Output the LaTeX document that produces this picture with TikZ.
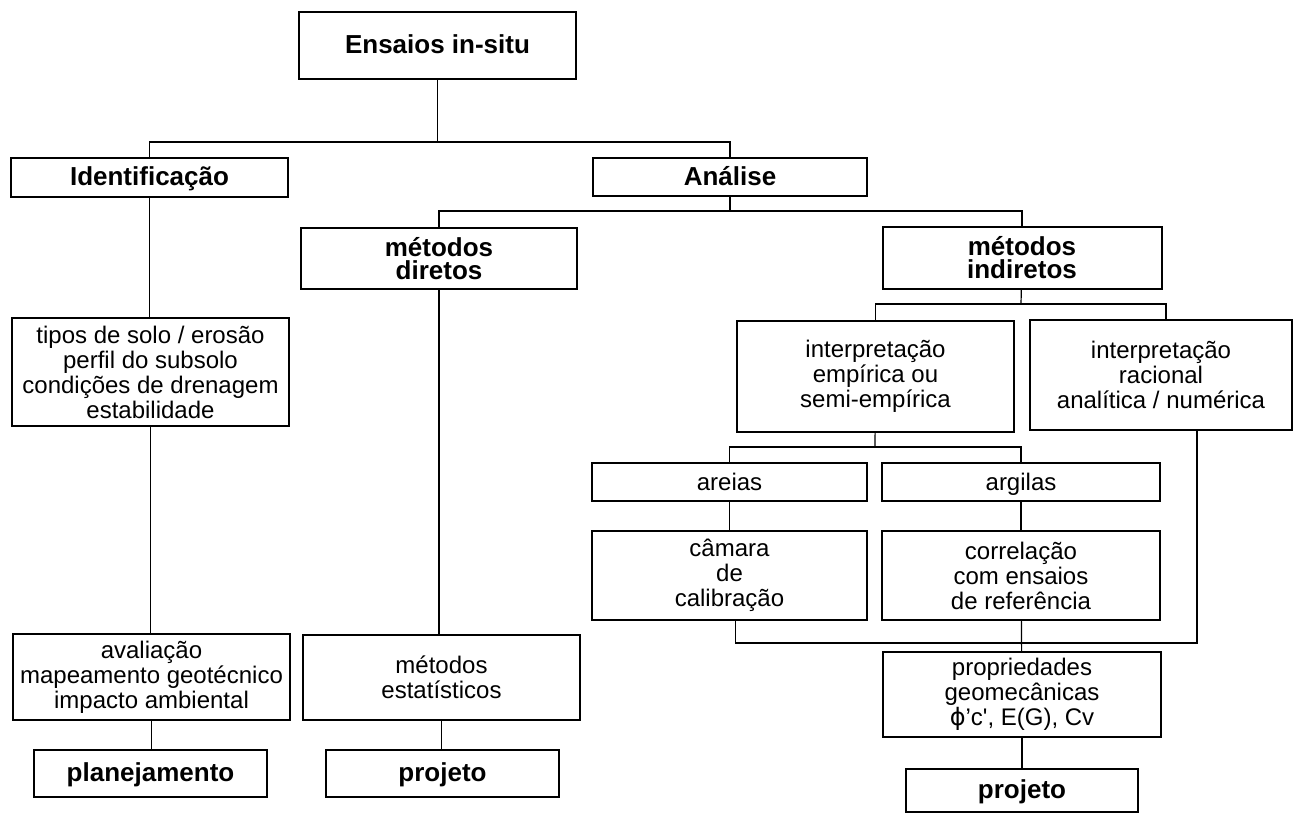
\documentclass[tikz,border=0pt]{standalone}
\usepackage{fontspec}
\setmainfont{Liberation Sans}
\newfontfamily\simbolo{DejaVu Sans}
\usetikzlibrary{calc}

\begin{document}
\begin{tikzpicture}[x=0.5pt, y=-0.5pt,
  caixa/.style={draw, line width=1pt, inner sep=0pt, align=center, font=\fontsize{12}{12.5}\selectfont},
  titulo/.style={caixa, font=\fontsize{13}{11.5}\selectfont\bfseries},
  linha/.style={text height=9.5pt, text depth=1.5pt},
  liga/.style={line width=0.6pt}]
\useasboundingbox (0,0) rectangle (1295,814);
\node[titulo, linha, minimum width=138.5pt, minimum height=33.5pt] (ensaios) at (437.5,45.5) {Ensaios in-situ};
\node[titulo, linha, minimum width=138.5pt, minimum height=19.5pt] (ident) at (149.5,177.5) {Identificação};
\node[titulo, linha, minimum width=137pt, minimum height=19pt] (analise) at (730,177) {Análise};
\node[titulo, minimum width=138pt, minimum height=30.5pt] (diretos) at (439,258.5) {métodos\\diretos};
\node[titulo, minimum width=139.5pt, minimum height=31pt] (indiretos) at (1022,258) {métodos\\indiretos};
\node[caixa, minimum width=138.5pt, minimum height=54pt] (tipos) at (150.5,372) {tipos de solo / erosão\\perfil do subsolo\\condições de drenagem\\estabilidade};
\node[caixa, minimum width=138.5pt, minimum height=55.5pt] (empirica) at (875.5,376.5) {interpretação\\empírica ou\\semi-empírica};
\node[caixa, minimum width=131pt, minimum height=55pt] (racional) at (1161,375) {interpretação\\racional\\analítica / numérica};
\node[caixa, linha, minimum width=137.5pt, minimum height=19pt] (areias) at (729.5,482) {areias};
\node[caixa, linha, minimum width=139pt, minimum height=19pt] (argilas) at (1021,482) {argilas};
\node[caixa, minimum width=137.5pt, minimum height=44.5pt] (camara) at (729.5,575.5) {câmara\\de\\calibração};
\node[caixa, minimum width=139pt, minimum height=44.5pt] (correlacao) at (1021,575.5) {correlação\\com ensaios\\de referência};
\node[caixa, minimum width=138.5pt, minimum height=43pt] (avaliacao) at (151.5,677) {avaliação\\mapeamento geotécnico\\impacto ambiental};
\node[caixa, minimum width=138.5pt, minimum height=42.5pt] (estatisticos) at (441.5,677.5) {métodos\\estatísticos};
\node[caixa, minimum width=139pt, minimum height=42.5pt] (propriedades) at (1022,694.5) {propriedades\\geomecânicas\\{\simbolo ϕ}’c\textquotesingle, E(G), Cv};
\node[titulo, linha, minimum width=116.5pt, minimum height=23.5pt] (planejamento) at (150.5,773.5) {planejamento};
\node[titulo, linha, minimum width=116.5pt, minimum height=23.5pt] (projetoA) at (442.5,773.5) {projeto};
\node[titulo, linha, minimum width=116pt, minimum height=21.5pt] (projetoB) at (1022,790.5) {projeto};

\coordinate (jA) at (437.5,142);
\coordinate (jB) at (730,211);
\coordinate (jC) at (1021,304);
\coordinate (jD) at (875,447);
\coordinate (jE) at (1021,643);

\draw[liga] (ensaios) -- (jA);
\draw[liga] (ident.north) |- (jA) -| (analise.north);
\draw[liga] (analise) -- (jB);
\draw[liga] (diretos.north) |- (jB) -| (indiretos.north);
\draw[liga] (indiretos) -- (jC);
\draw[liga] (empirica.north) |- (jC) -| ($(racional.north)+(5,0)$);
\draw[liga] (empirica) -- (jD);
\draw[liga] (areias.north) |- (jD) -| (argilas.north);
\draw[liga] (ident) -- (ident |- tipos.north);
\draw[liga] (tipos) -- (tipos |- avaliacao.north);
\draw[liga] (avaliacao) -- (avaliacao |- planejamento.north);
\draw[liga] (diretos) -- (diretos |- estatisticos.north);
\draw[liga] (estatisticos) -- (estatisticos |- projetoA.north);
\draw[liga] (areias) -- (camara);
\draw[liga] (argilas) -- (correlacao);
\draw[liga] ([xshift=3pt]camara.south) |- (jE) -| ($(racional.south)+(36,0)$);
\draw[liga] (correlacao) -- (propriedades);
\draw[liga] (propriedades) -- (projetoB);
\end{tikzpicture}
\end{document}
